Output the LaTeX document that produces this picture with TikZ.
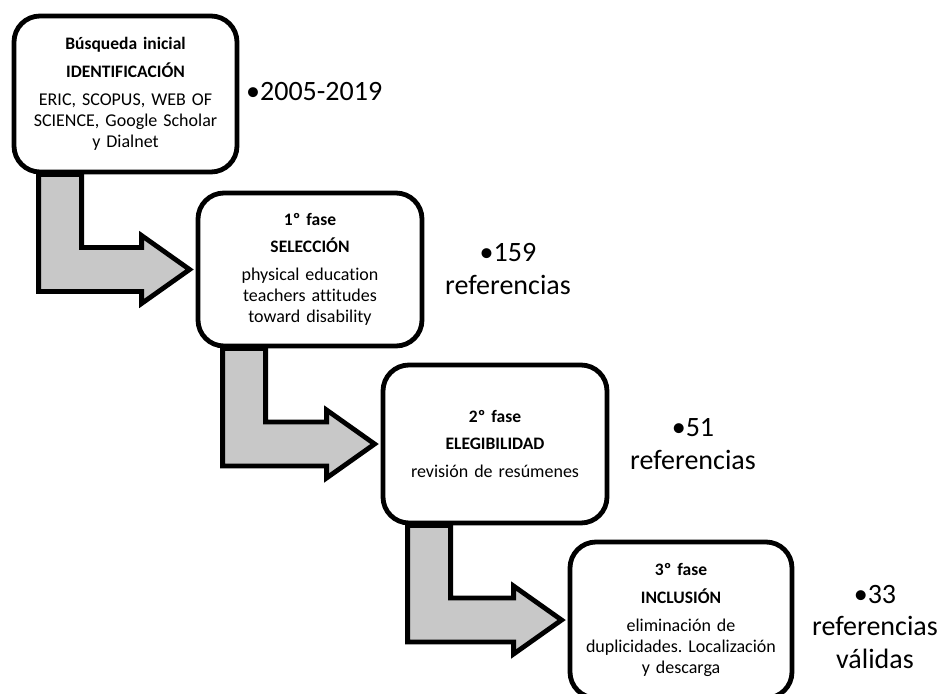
\documentclass[tikz,border=0pt]{standalone}
\usepackage{fontspec}
\setmainfont{Carlito}[Ligatures=NoCommon]
\usetikzlibrary{calc,backgrounds}
\definecolor{arrowgray}{RGB}{200,200,200}
\newcommand\bsz{\fontsize{17.5}{21}\selectfont\bfseries}
\frenchspacing
\tikzset{
  box/.style={draw=black, line width=4.8pt, rounded corners=26pt, fill=white,
    align=center, inner sep=0pt, text width=214pt,
    font=\fontsize{18}{21}\selectfont},
  flow/.style={draw=black, line width=4.8pt, fill=arrowgray, line join=miter},
  side/.style={align=center, inner sep=0pt, font=\fontsize{28}{32.5}\selectfont}
}
\newcommand\flowarrow[2]{%
  \path (#1.south west) ++(27,0) coordinate (#1-sl) ++(43,0) coordinate (#1-sr);
  \path (#2.west) ++(-6,0) coordinate (#2-tip);
  \begin{pgfonlayer}{background}
  \draw[flow] (#1-sl)
    -- ($(#1-sl |- #2-tip)+(0,22)$)
    -- ($(#2-tip)+(-48,22)$)
    -- ($(#2-tip)+(-48,34)$)
    -- (#2-tip)
    -- ($(#2-tip)+(-48,-34)$)
    -- ($(#2-tip)+(-48,-22)$)
    -- ($(#1-sr |- #2-tip)+(0,-22)$)
    -- (#1-sr) -- cycle;
  \end{pgfonlayer}}
\begin{document}
\begin{tikzpicture}[x=1pt,y=-1pt]
\useasboundingbox (0,0) rectangle (946,694);

\node[box, minimum width=223pt, minimum height=156pt] (b1) at (125.5,94)
  {{\bsz Búsqueda inicial}\\[6.5pt]{\bsz IDENTIFICACIÓN}\\[7pt]ERIC, SCOPUS, WEB OF\\SCIENCE, Google Scholar\\y Dialnet};
\node[box, minimum width=224pt, minimum height=153pt] (b2) at (310,269.5)
  {{\bsz 1º fase}\\[6.5pt]{\bsz SELECCIÓN}\\[7pt]physical education\\teachers attitudes\\toward disability};
\node[box, minimum width=224pt, minimum height=158pt] (b3) at (495,444)
  {{\bsz 2º fase}\\[6.5pt]{\bsz ELEGIBILIDAD}\\[7pt]revisión de resúmenes};
\node[box, minimum width=222pt, minimum height=156pt] (b4) at (681,620)
  {{\bsz 3º fase}\\[6.5pt]{\bsz INCLUSIÓN}\\[7pt]eliminación de\\duplicidades. Localización\\y descarga};

\flowarrow{b1}{b2}
\flowarrow{b2}{b3}
\flowarrow{b3}{b4}

\node[side, anchor=base west] (t1) at (246,100) {•2005-2019};
\node[side, anchor=base] (t2) at (508,294) {•159\\referencias};
\node[side, anchor=base] (t3) at (693,469) {•51\\referencias};
\node[side, anchor=base] (t4) at (875,668) {•33\\referencias\\válidas};
\end{tikzpicture}
\end{document}
